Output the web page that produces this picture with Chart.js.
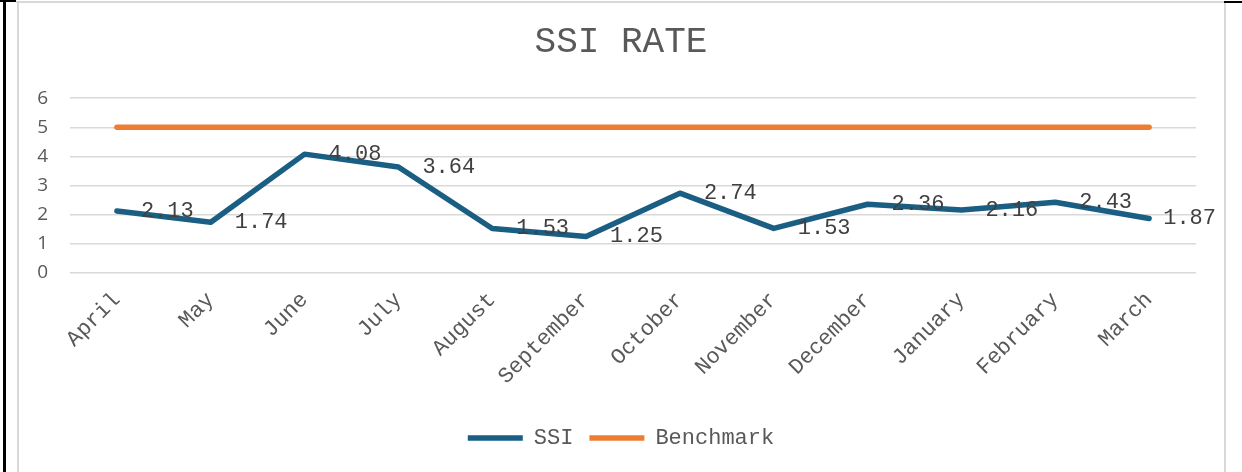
<!DOCTYPE html>
<html>
<head>
<meta charset="utf-8">
<script src="https://cdn.jsdelivr.net/npm/chart.js@4"></script>
<style>
  html, body { margin: 0; padding: 0; background: #fff; }
  #wrap { position: relative; width: 1242px; height: 472px; overflow: hidden; background: #fff; }
  canvas { position: absolute; left: 0; top: 0; }
  .ln { position: absolute; }
</style>
</head>
<body>
<div id="wrap">
  <canvas id="c" width="1242" height="472"></canvas>
  <div class="ln" style="left:3px;top:0;width:3px;height:472px;background:#000"></div>
  <div class="ln" style="left:0;top:0;width:16px;height:2px;background:#000"></div>
  <div class="ln" style="left:16px;top:1px;width:1208px;height:2px;background:#d9d9d9"></div>
  <div class="ln" style="left:17px;top:3px;width:2px;height:469px;background:#d9d9d9"></div>
  <div class="ln" style="left:1224px;top:2px;width:2px;height:470px;background:#d9d9d9"></div>
  <div class="ln" style="left:1224px;top:1px;width:18px;height:2px;background:#000"></div>
</div>
<script>
const categories = ["April","May","June","July","August","September","October","November","December","January","February","March"];
const ssiValues = [2.13, 1.74, 4.08, 3.64, 1.53, 1.25, 2.74, 1.53, 2.36, 2.16, 2.43, 1.87];
const benchmarkValues = [5, 5, 5, 5, 5, 5, 5, 5, 5, 5, 5, 5];
const yTicks = [0, 1, 2, 3, 4, 5, 6];

const MONO = '"Courier New", "Liberation Mono", monospace';
const SANS = '"Open Sans", "Noto Sans", sans-serif';

const dataLabels = {
  id: 'dataLabels',
  afterDatasetsDraw(chart) {
    const meta = chart.getDatasetMeta(0);
    const ctx = chart.ctx;
    ctx.save();
    ctx.font = '22px ' + MONO;
    ctx.fillStyle = '#404040';
    ctx.textAlign = 'left';
    ctx.textBaseline = 'middle';
    const limit = 1216;
    meta.data.forEach((pt, i) => {
      const txt = ssiValues[i].toFixed(2);
      const w = ctx.measureText(txt).width;
      let x = pt.x + 24;
      if (x + w > limit) x = limit - w;
      ctx.fillText(txt, x, pt.y);
    });
    ctx.restore();
  }
};

new Chart(document.getElementById('c'), {
  type: 'line',
  data: {
    labels: categories,
    datasets: [
      {
        label: 'SSI',
        data: ssiValues,
        borderColor: '#1a5e83',
        backgroundColor: '#1a5e83',
        borderWidth: 5.5,
        borderCapStyle: 'round',
        borderJoinStyle: 'round',
        tension: 0,
        pointRadius: 0,
        pointHoverRadius: 0,
        fill: false
      },
      {
        label: 'Benchmark',
        data: benchmarkValues,
        borderColor: '#ed7d31',
        backgroundColor: '#ed7d31',
        borderWidth: 5.5,
        borderCapStyle: 'round',
        borderJoinStyle: 'round',
        tension: 0,
        pointRadius: 0,
        pointHoverRadius: 0,
        fill: false
      }
    ]
  },
  options: {
    responsive: false,
    animation: false,
    events: [],
    layout: { padding: { left: 0, right: 0, top: 0, bottom: 13 } },
    plugins: {
      tooltip: { enabled: false },
      title: {
        display: true,
        text: 'SSI RATE',
        color: '#595959',
        font: { family: MONO, size: 36, weight: 'normal', lineHeight: 1.2 },
        padding: { top: 21, bottom: 34 }
      },
      legend: {
        display: true,
        position: 'bottom',
        labels: {
          usePointStyle: true,
          pointStyle: 'line',
          pointStyleWidth: 55,
          color: '#595959',
          font: { family: MONO, size: 22 },
          padding: 16
        }
      }
    },
    scales: {
      x: {
        type: 'category',
        offset: true,
        grid: { display: false, drawTicks: false },
        border: { display: false },
        ticks: {
          color: '#595959',
          font: { family: MONO, size: 22 },
          minRotation: 45,
          maxRotation: 45,
          autoSkip: false,
          padding: 14
        },
        afterFit(scale) { scale.height = 138; }
      },
      y: {
        min: 0,
        max: 6,
        afterBuildTicks(scale) { scale.ticks = yTicks.map(v => ({ value: v })); },
        grid: { color: '#d9d9d9', lineWidth: 1.5, drawTicks: false },
        border: { display: false },
        ticks: {
          color: '#595959',
          font: { family: SANS, size: 19 },
          padding: 22
        },
        afterFit(scale) { scale.width = 70; }
      },
      yR: {
        position: 'right',
        display: true,
        min: 0,
        max: 6,
        grid: { display: false, drawTicks: false },
        border: { display: false },
        ticks: { display: false },
        afterFit(scale) { scale.width = 46; }
      }
    }
  },
  plugins: [dataLabels]
});
</script>
</body>
</html>
